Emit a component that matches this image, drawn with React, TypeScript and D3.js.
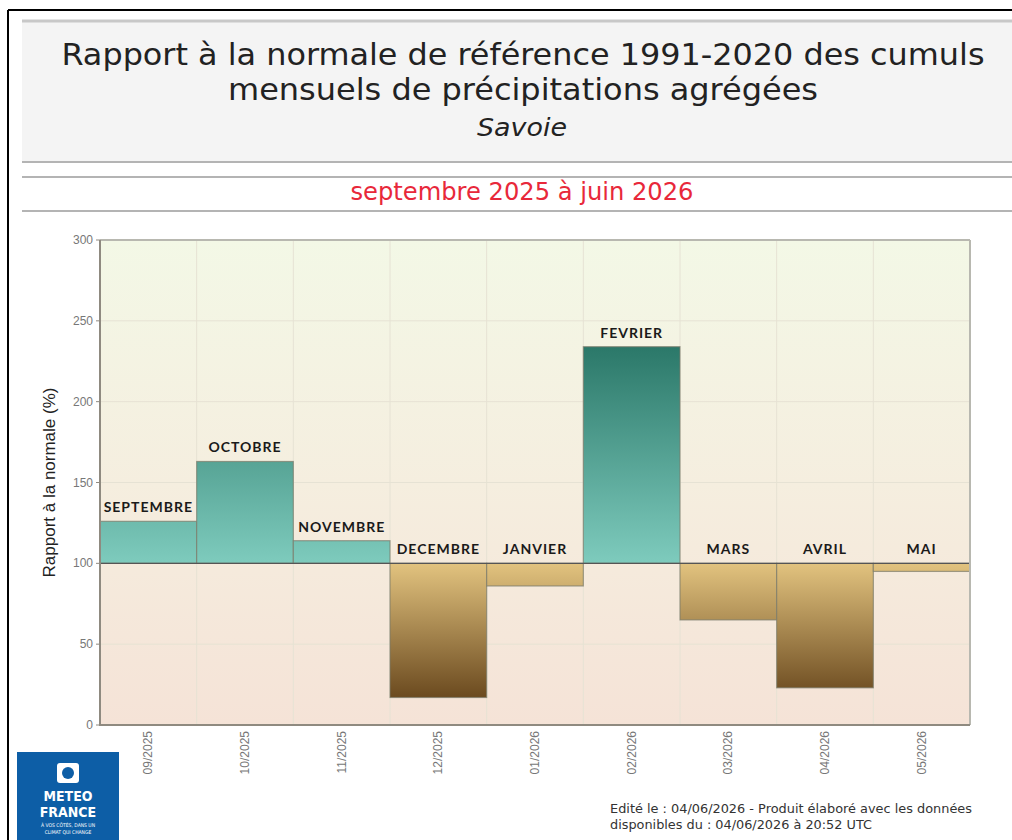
import React from 'react'
import * as d3 from 'd3'

// mois de la période et rapport à la normale (%)
const months = ['SEPTEMBRE', 'OCTOBRE', 'NOVEMBRE', 'DECEMBRE', 'JANVIER', 'FEVRIER', 'MARS', 'AVRIL', 'MAI']
const tickLabels = ['09/2025', '10/2025', '11/2025', '12/2025', '01/2026', '02/2026', '03/2026', '04/2026', '05/2026']
const ratios = [126, 163, 114, 17, 86, 234, 65, 23, 95]
const yTicks = [0, 50, 100, 150, 200, 250, 300]

const W = 1012
const H = 840
const left = 100
const right = 970
const top = 240
const bottom = 725

const cond = "'DejaVu Sans Condensed', 'DejaVu Sans', sans-serif"
const narrow = "'Liberation Sans Narrow', 'Liberation Sans', sans-serif"

const App = () => {
  const x = d3.scaleBand().domain(tickLabels).range([left, right]).padding(0)
  const y = d3.scaleLinear().domain([0, 300]).range([bottom, top])
  const base = y(100)

  return (
    <svg width={W} height={H} style={{ position: 'absolute', left: 0, top: 0, background: '#fff' }}>
      <defs>
        <linearGradient id="bg" gradientUnits="userSpaceOnUse" x1="0" y1={top} x2="0" y2={bottom}>
          <stop offset="0" stopColor="#f3f8e6" />
          <stop offset="0.5" stopColor="#f5eedf" />
          <stop offset="1" stopColor="#f5e3d7" />
        </linearGradient>
        <linearGradient id="pos" gradientUnits="userSpaceOnUse" x1="0" y1={base} x2="0" y2={y(234)}>
          <stop offset="0" stopColor="#7ecbbd" />
          <stop offset="1" stopColor="#2b7869" />
        </linearGradient>
        <linearGradient id="neg" gradientUnits="userSpaceOnUse" x1="0" y1={base} x2="0" y2={y(17)}>
          <stop offset="0" stopColor="#e2c37f" />
          <stop offset="1" stopColor="#6b4a1f" />
        </linearGradient>
      </defs>

      {/* cadre */}
      <line x1={8} x2={W} y1={10} y2={10} stroke="#000" strokeWidth={2} />
      <line x1={8} x2={8} y1={10} y2={H} stroke="#000" strokeWidth={2} />

      {/* en-tête */}
      <rect x={22} y={21} width={W - 22} height={142} fill="#f4f4f4" />
      <line x1={22} x2={W} y1={21} y2={21} stroke="#c8c8c8" strokeWidth={3} />
      <line x1={22} x2={W} y1={162} y2={162} stroke="#b4b4b4" strokeWidth={2} />
      <line x1={22} x2={W} y1={177} y2={177} stroke="#b4b4b4" strokeWidth={2} />
      <line x1={22} x2={W} y1={211} y2={211} stroke="#b4b4b4" strokeWidth={2} />
      <g fontFamily={cond} textAnchor="middle" fill="#222">
        <text x={523} y={65} fontSize={30} textLength={923} lengthAdjust="spacingAndGlyphs">Rapport à la normale de référence 1991-2020 des cumuls</text>
        <text x={523} y={100} fontSize={30} textLength={590} lengthAdjust="spacingAndGlyphs">mensuels de précipitations agrégées</text>
        <text x={522} y={136} fontSize={24} fontStyle="italic" textLength={90} lengthAdjust="spacingAndGlyphs">Savoie</text>
        <text x={522} y={200} fontSize={24} fill="#e8283a" textLength={343} lengthAdjust="spacingAndGlyphs">septembre 2025 à juin 2026</text>
      </g>

      {/* zone de tracé */}
      <rect x={left} y={top} width={right - left} height={bottom - top} fill="url(#bg)" />
      {yTicks.slice(1, -1).map(t => (
        <line key={t} x1={left} x2={right} y1={y(t)} y2={y(t)} stroke="#e6e2d4" strokeWidth={1} />
      ))}
      {tickLabels.slice(1).map(t => (
        <line key={t} x1={x(t)} x2={x(t)} y1={top} y2={bottom} stroke="#e6e2d4" strokeWidth={1} />
      ))}

      {/* barres */}
      {ratios.map((v, i) => {
        const bx = x(tickLabels[i])!
        const y0 = Math.min(y(v), base)
        const h = Math.abs(y(v) - base)
        return (
          <rect key={i} x={bx} y={y0} width={x.bandwidth()} height={h}
            fill={v >= 100 ? 'url(#pos)' : 'url(#neg)'} stroke="#7a7a6a" strokeOpacity={0.7} strokeWidth={1.2} />
        )
      })}
      <line x1={left} x2={right} y1={base} y2={base} stroke="#555" strokeWidth={1.2} />

      {/* étiquettes des mois */}
      {ratios.map((v, i) => (
        <text key={i} x={x(tickLabels[i])! + x.bandwidth() / 2} y={Math.min(y(v), base) - 9}
          textAnchor="middle" fontFamily="Lato, sans-serif" fontWeight={700} fontSize={14}
          letterSpacing={1} fill="#1a1a1a">{months[i]}</text>
      ))}

      {/* axes */}
      <line x1={right} x2={right} y1={top} y2={bottom} stroke="#b8b8b0" strokeWidth={2} />
      <line x1={left} x2={right} y1={top} y2={top} stroke="#b8b8b0" strokeWidth={2} />
      <line x1={left} x2={left} y1={top} y2={bottom + 1} stroke="#8f8a80" strokeWidth={2} />
      <line x1={left} x2={right} y1={bottom} y2={bottom} stroke="#8f8a80" strokeWidth={2} />
      {yTicks.map(t => (
        <g key={t}>
          <line x1={left - 4} x2={left} y1={y(t)} y2={y(t)} stroke="#8f8a80" />
          <text x={left - 7} y={y(t) + 4} textAnchor="end" fontFamily={narrow}
            fontSize={12} fill="#777">{t}</text>
        </g>
      ))}
      {tickLabels.map(t => (
        <text key={t} transform={`translate(${x(t)! + x.bandwidth() / 2 + 4},${bottom + 6}) rotate(-90)`}
          textAnchor="end" fontFamily={narrow} fontSize={12} fill="#777">{t}</text>
      ))}
      <text transform={`translate(55,${(top + bottom) / 2}) rotate(-90)`} textAnchor="middle"
        fontFamily={narrow} fontSize={17} fill="#222">Rapport à la normale (%)</text>

      {/* logo */}
      <rect x={17} y={752} width={102} height={88} fill="#0d5ea6" />
      <rect x={57} y={763} width={22} height={20} rx={3} fill="#fff" />
      <circle cx={68} cy={773} r={6} fill="#0d5ea6" />
      <g fontFamily={cond} fontWeight={700} fill="#fff" textAnchor="middle">
        <text x={68} y={801} fontSize={14}>METEO</text>
        <text x={68} y={817} fontSize={14}>FRANCE</text>
        <text x={68} y={827} fontSize={5} fontWeight={400}>À VOS CÔTÉS, DANS UN</text>
        <text x={68} y={834} fontSize={5} fontWeight={400}>CLIMAT QUI CHANGE</text>
      </g>

      {/* pied de page */}
      <g fontFamily="'DejaVu Sans', sans-serif" fontSize={12} fill="#333">
        <text x={610} y={813} textLength={362} lengthAdjust="spacingAndGlyphs">Edité le : 04/06/2026 - Produit élaboré avec les données</text>
        <text x={610} y={829} textLength={262} lengthAdjust="spacingAndGlyphs">disponibles du : 04/06/2026 à 20:52 UTC</text>
      </g>
    </svg>
  )
}

export default App
